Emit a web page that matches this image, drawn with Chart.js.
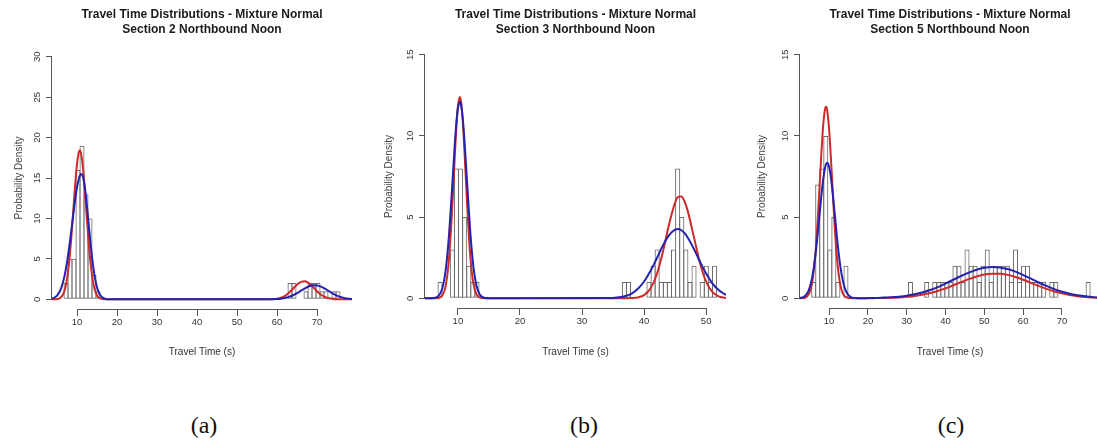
<!DOCTYPE html>
<html>
<head>
<meta charset="utf-8">
<script src="https://cdn.jsdelivr.net/npm/chart.js@4"></script>
<style>
  html, body { margin: 0; padding: 0; background: #fff; }
  body { width: 1097px; height: 443px; overflow: hidden; position: relative; }
  .panel { position: absolute; top: 0; }
  .cap { position: absolute; top: 412px; width: 80px; text-align: center;
         font-family: "Liberation Serif", serif; font-size: 24px; line-height: 26px; color: #111; }
</style>
</head>
<body>
<div class="panel" style="left:0px"><canvas id="chartA" width="370" height="365"></canvas></div>
<div class="panel" style="left:370px"><canvas id="chartB" width="370" height="365"></canvas></div>
<div class="panel" style="left:740px"><canvas id="chartC" width="380" height="365"></canvas></div>
<div class="cap" style="left:164px">(a)</div>
<div class="cap" style="left:544px">(b)</div>
<div class="cap" style="left:911px">(c)</div>
<script>
const titleLine1 = 'Travel Time Distributions - Mixture Normal';
const subtitles = ['Section 2 Northbound Noon', 'Section 3 Northbound Noon', 'Section 5 Northbound Noon'];

// tick labels
const xTicksA = [10, 20, 30, 40, 50, 60, 70];
const yTicksA = [0, 5, 10, 15, 20, 25, 30];
const xTicksB = [10, 20, 30, 40, 50];
const yTicksB = [0, 5, 10, 15];
const xTicksC = [10, 20, 30, 40, 50, 60, 70];
const yTicksC = [0, 5, 10, 15];

// histogram bins (mid points) and counts, empty bins left out
const binsA = [7.25, 8.25, 9.25, 10.25, 11.25, 12.25, 13.25, 14.25, 15.25,
  63.25, 64.25, 67.25, 68.25, 69.25, 70.25, 71.25, 72.25, 74.25, 75.25];
const countsA = [2, 5, 5, 16, 19, 13, 10, 3, 1,
  2, 2, 1, 2, 2, 2, 1, 1, 1, 1];

const binsB = [7.13, 9.11, 9.77, 10.43, 11.09, 11.75, 12.41, 13.07,
  36.83, 37.49, 40.79, 41.45, 42.11, 42.77, 43.43, 44.09, 44.75, 45.41, 46.07, 46.73,
  47.39, 48.05, 49.37, 50.03, 50.69, 51.35];
const countsB = [1, 3, 8, 8, 5, 2, 1, 1,
  1, 1, 1, 2, 3, 1, 1, 1, 3, 8, 5, 3,
  1, 2, 1, 2, 1, 2];

const binsC = [6.02, 7.06, 8.10, 9.14, 10.18, 11.22, 12.26, 14.34,
  30.98, 35.14, 37.22, 38.26, 39.30, 40.34, 41.38, 42.42, 43.46, 44.50, 45.54, 46.58,
  47.62, 48.66, 49.70, 50.74, 51.78, 52.82, 53.86, 54.90, 55.94, 56.98, 58.02, 59.06,
  60.10, 61.14, 62.18, 63.22, 64.26, 65.30, 67.38, 68.42, 76.74];
const countsC = [1, 7, 8, 10, 3, 5, 1, 2,
  1, 1, 1, 1, 1, 1, 1, 2, 2, 1, 3, 2,
  2, 1, 2, 3, 1, 2, 2, 2, 2, 1, 3, 1,
  2, 2, 1, 1, 1, 1, 1, 1, 1];

// fitted mixture curves
const curveXA = [3.75, 4.5, 5, 5.5, 6, 6.5, 7, 7.5, 8, 8.5, 9, 9.5, 10, 10.5, 10.75, 11, 11.5, 12,
  12.5, 13, 13.5, 14, 14.5, 15, 15.5, 16, 16.5, 17, 18,
  58, 59, 60, 61, 62, 63, 64, 65, 66, 67, 68, 69, 70, 71, 72, 73, 74, 75, 76, 77, 78, 78.75];
const redA = [0, 0, 0.03, 0.09, 0.25, 0.59, 1.27, 2.49, 4.43, 7.15, 10.47, 13.89, 16.72, 18.26, 18.39, 18.08, 16.24, 13.23,
  9.77, 6.55, 3.98, 2.19, 1.10, 0.50, 0.20, 0.08, 0.03, 0.01, 0,
  0.01, 0.03, 0.08, 0.20, 0.43, 0.81, 1.30, 1.80, 2.15, 2.22, 1.97, 1.51, 1.00, 0.57, 0.28, 0.12, 0.04, 0.01, 0, 0, 0, 0];
const blueA = [0.09, 0.25, 0.46, 0.80, 1.33, 2.10, 3.17, 4.55, 6.25, 8.18, 10.22, 12.17, 13.83, 14.98, 15.32, 15.48, 15.12, 13.68,
  11.45, 8.88, 6.37, 4.23, 2.60, 1.48, 0.78, 0.38, 0.17, 0.07, 0,
  0.01, 0.02, 0.04, 0.08, 0.16, 0.30, 0.50, 0.76, 1.06, 1.36, 1.61, 1.74, 1.72, 1.57, 1.31, 1.00, 0.70, 0.45, 0.27, 0.14, 0.07, 0.04];

const curveXB = [4.7, 5.5, 6, 6.5, 7, 7.5, 8, 8.5, 9, 9.5, 9.75, 10, 10.3, 10.5, 10.75, 11, 11.5, 12, 12.5, 13, 13.5, 14, 14.5, 15,
  34, 35, 36, 37, 38, 39, 40, 41, 42, 43, 44, 45, 45.5, 46, 46.5, 47, 48, 49, 50, 51, 52, 53, 53.2];
const redB = [0, 0, 0, 0, 0.03, 0.18, 0.70, 2.14, 4.96, 8.76, 10.52, 11.81, 12.4, 12.13, 11.11, 9.50, 5.68, 2.59, 0.90, 0.24, 0.05, 0.01, 0, 0,
  0, 0, 0, 0, 0.01, 0.05, 0.19, 0.58, 1.42, 2.80, 4.51, 5.90, 6.24, 6.27, 5.99, 5.43, 3.82, 2.19, 1.02, 0.39, 0.12, 0.03, 0.02];
const blueB = [0, 0, 0.01, 0.05, 0.20, 0.62, 1.64, 3.55, 6.39, 9.50, 10.79, 11.69, 12.1, 11.92, 11.21, 10.05, 7.02, 4.06, 1.94, 0.77, 0.25, 0.07, 0.01, 0,
  0.01, 0.02, 0.06, 0.14, 0.29, 0.58, 1.03, 1.66, 2.42, 3.22, 3.87, 4.23, 4.26, 4.19, 4.02, 3.76, 3.06, 2.26, 1.52, 0.92, 0.51, 0.25, 0.20];

const curveXC = [2.5, 3, 3.5, 4, 4.5, 5, 5.5, 6, 6.5, 7, 7.5, 8, 8.5, 9, 9.25, 9.5, 10, 10.5, 11, 11.5, 12, 12.5, 13, 13.5,
  14, 14.5, 15, 15.5, 16, 17, 18, 20, 22, 24, 26, 28, 30, 32, 34, 36, 38, 40, 42, 44, 46, 48, 50, 52, 54, 56, 58,
  60, 62, 64, 66, 68, 70, 72, 74, 76, 78, 79.8];
const redC = [0, 0.01, 0.02, 0.06, 0.16, 0.38, 0.82, 1.60, 2.84, 4.59, 6.71, 8.91, 10.72, 11.71, 11.8, 11.59, 10.41, 8.48, 6.27, 4.20, 2.55, 1.41, 0.70, 0.32,
  0.13, 0.05, 0.02, 0.01, 0, 0, 0, 0, 0.01, 0.02, 0.03, 0.05, 0.09, 0.14, 0.21, 0.32, 0.45, 0.61, 0.80, 0.99, 1.18, 1.34, 1.46, 1.51, 1.51, 1.44, 1.31,
  1.14, 0.95, 0.76, 0.58, 0.42, 0.30, 0.20, 0.13, 0.08, 0.05, 0.03];
const blueC = [0.02, 0.04, 0.09, 0.19, 0.37, 0.66, 1.13, 1.80, 2.71, 3.82, 5.06, 6.30, 7.37, 8.09, 8.28, 8.35, 8.09, 7.37, 6.30, 5.06, 3.82, 2.71, 1.80, 1.13,
  0.66, 0.37, 0.19, 0.09, 0.04, 0.01, 0, 0.01, 0.02, 0.04, 0.06, 0.10, 0.16, 0.25, 0.36, 0.51, 0.69, 0.91, 1.14, 1.37, 1.58, 1.76, 1.88, 1.93, 1.90, 1.80, 1.64,
  1.43, 1.21, 0.97, 0.76, 0.56, 0.40, 0.28, 0.18, 0.12, 0.07, 0.04];

Chart.defaults.font.family = '"Liberation Sans", Arial, sans-serif';

// R style axes: line only between first and last tick, vertical y labels
const rAxes = {
  id: 'rAxes',
  afterDraw(chart) {
    const { ctx, chartArea, scales: { x, y } } = chart;
    const xs = x.ticks.map(t => x.getPixelForValue(t.value));
    const ys = y.ticks.map(t => y.getPixelForValue(t.value));
    ctx.save();
    ctx.strokeStyle = '#555';
    ctx.lineWidth = 1;
    ctx.beginPath();
    ctx.moveTo(xs[0], chartArea.bottom + 0.5);
    ctx.lineTo(xs[xs.length - 1], chartArea.bottom + 0.5);
    ctx.moveTo(chartArea.left - 0.5, ys[0]);
    ctx.lineTo(chartArea.left - 0.5, ys[ys.length - 1]);
    ctx.stroke();
    ctx.fillStyle = '#333';
    ctx.font = '9.5px "Liberation Sans", Arial, sans-serif';
    ctx.textAlign = 'center';
    ctx.textBaseline = 'middle';
    y.ticks.forEach((t, i) => {
      ctx.save();
      ctx.translate(chartArea.left - 15, ys[i]);
      ctx.rotate(-Math.PI / 2);
      ctx.fillText(t.label, 0, 0);
      ctx.restore();
    });
    ctx.restore();
  }
};

function makePanel(id, p) {
  new Chart(document.getElementById(id), {
    type: 'bar',
    data: {
      datasets: [
        {
          type: 'line', label: 'blue',
          data: p.curveX.map((x, i) => ({ x: x, y: p.blue[i] })),
          borderColor: '#2323b0', borderWidth: 2, pointRadius: 0, fill: false,
          cubicInterpolationMode: 'monotone', order: 0
        },
        {
          type: 'line', label: 'red',
          data: p.curveX.map((x, i) => ({ x: x, y: p.red[i] })),
          borderColor: '#cf2a2a', borderWidth: 2, pointRadius: 0, fill: false,
          cubicInterpolationMode: 'monotone', order: 1
        },
        {
          // bars widened by one border so neighbours share a single outline
          type: 'bar', label: 'hist',
          data: p.bins.map((x, i) => ({ x: x, y: p.counts[i] })),
          backgroundColor: 'rgba(0,0,0,0)', borderColor: '#6a6a6a', borderWidth: 1,
          borderSkipped: false, inflateAmount: 0,
          barPercentage: p.barPct, categoryPercentage: 1, order: 2
        }
      ]
    },
    options: {
      responsive: false,
      animation: false,
      devicePixelRatio: 1,
      layout: { padding: { left: 0, right: p.padRight, top: 0, bottom: 0 } },
      plugins: {
        legend: { display: false },
        tooltip: { enabled: false },
        title: {
          display: true, text: [titleLine1, p.subtitle], fullSize: false, color: '#1b1b1b',
          font: { size: 12, weight: 'bold', lineHeight: 1.25 },
          padding: { top: 7.5, bottom: p.titleGap }
        }
      },
      scales: {
        x: {
          type: 'linear', min: p.xMin, max: p.xMax, offset: false,
          afterBuildTicks: s => { s.ticks = p.xTicks.map(v => ({ value: v })); },
          afterFit: s => { s.height = p.xAxisH; s.paddingLeft = 0; s.paddingRight = 0; },
          grid: { display: true, drawOnChartArea: false, drawTicks: true, tickLength: 7, color: '#555', offset: false },
          border: { display: false },
          ticks: { color: '#333', font: { size: 9.5 }, padding: 1, maxRotation: 0, autoSkip: false },
          title: { display: true, text: 'Travel Time (s)', color: '#333', font: { size: 10 }, padding: { top: 0, bottom: 7 } }
        },
        y: {
          type: 'linear', min: p.yMin, max: p.yMax,
          afterBuildTicks: s => { s.ticks = p.yTicks.map(v => ({ value: v })); },
          afterFit: s => { s.width = p.yAxisW; s.paddingTop = 0; s.paddingBottom = 0; },
          grid: { display: true, drawOnChartArea: false, drawTicks: true, tickLength: 6, color: '#555' },
          border: { display: false },
          ticks: { display: false },
          title: { display: true, text: 'Probability Density', color: '#444', font: { size: 10 }, padding: { top: p.yTitlePad, bottom: 0 } }
        }
      }
    },
    plugins: [rAxes]
  });
}

makePanel('chartA', {
  subtitle: subtitles[0], bins: binsA, counts: countsA, curveX: curveXA, red: redA, blue: blueA,
  xTicks: xTicksA, yTicks: yTicksA, xMin: 3.75, xMax: 78.75, yMin: -1.2, yMax: 31.2,
  yAxisW: 52, xAxisH: 56, padRight: 18, titleGap: 9.5, yTitlePad: 13, barPct: 1.25
});
makePanel('chartB', {
  subtitle: subtitles[1], bins: binsB, counts: countsB, curveX: curveXB, red: redB, blue: blueB,
  xTicks: xTicksB, yTicks: yTicksB, xMin: 4.7, xMax: 53.2, yMin: -0.6, yMax: 15.6,
  yAxisW: 55, xAxisH: 57, padRight: 14, titleGap: 7.5, yTitlePad: 13, barPct: 1.244
});
makePanel('chartC', {
  subtitle: subtitles[2], bins: binsC, counts: countsC, curveX: curveXC, red: redC, blue: blueC,
  xTicks: xTicksC, yTicks: yTicksC, xMin: 2.5, xMax: 79.8, yMin: -0.6, yMax: 15.6,
  yAxisW: 60, xAxisH: 57, padRight: 20, titleGap: 7.5, yTitlePad: 16, barPct: 1.248
});
</script>
</body>
</html>
